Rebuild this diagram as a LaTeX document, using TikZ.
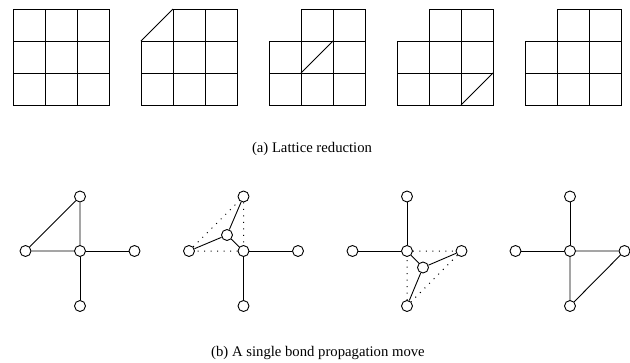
\documentclass[tikz,border=0pt]{standalone}
\usepackage{fontspec}
\setmainfont{Liberation Serif}
\usepackage{tikz}
\usetikzlibrary{positioning, calc}

\begin{document}
\begin{tikzpicture}[
    x=1pt, y=-1pt,
    line width=0.9pt,
    site/.style={circle, draw, fill=white, minimum size=11pt, inner sep=0pt},
    bond/.style={line width=0.9pt},
    ghost/.style={line width=1pt, dash pattern=on 1pt off 5.5pt},
    caption/.style={font=\fontsize{14.7}{17}\selectfont}
]
    \useasboundingbox (0,0) rectangle (630,362);

    % Lattice reduction: full lattice
    \foreach \c in {0,1,2}
        \foreach \r in {0,1,2}
            \draw (13+32*\c, 9+32*\r) rectangle +(32,32);

    % Lattices with the corner cell taken out
    \foreach \x in {141,269,397,525}
        \foreach \c/\r in {1/0,2/0,0/1,1/1,2/1,0/2,1/2,2/2}
            \draw (\x+32*\c, 9+32*\r) rectangle +(32,32);

    % Diagonals
    \draw (141,41) -- (173,9);
    \draw (301,73) -- (333,41);
    \draw (461,105) -- (493,73);

    \node[caption] (capa) at (312,149) {(a) Lattice reduction};

    % Bond propagation: four copies of the star
    \foreach \i/\x in {1/80,2/243.5,3/407,4/570} {
        \node[site] (c\i) at (\x,251) {};
        \node[site] (t\i) at (\x,196.5) {};
        \node[site] (l\i) at (\x-54.5,251) {};
        \node[site] (r\i) at (\x+54.5,251) {};
        \node[site] (b\i) at (\x,306) {};
    }
    \node[site] (m2) at (227,235) {};
    \node[site] (m3) at (423,267.5) {};

    % Before the move
    \draw[bond] (l1) -- (t1) -- (c1) -- (l1);
    \draw[bond] (c1) -- (r1);
    \draw[bond] (c1) -- (b1);

    % Triangle shrinks to a node
    \draw[ghost] (l2) -- (t2) -- (c2) -- (l2);
    \draw[bond] (m2) -- (t2);
    \draw[bond] (m2) -- (l2);
    \draw[bond] (m2) -- (c2);
    \draw[bond] (c2) -- (r2);
    \draw[bond] (c2) -- (b2);

    % Node opens into the next triangle
    \draw[ghost] (c3) -- (r3) -- (b3) -- (c3);
    \draw[bond] (t3) -- (c3);
    \draw[bond] (l3) -- (c3);
    \draw[bond] (c3) -- (m3);
    \draw[bond] (m3) -- (r3);
    \draw[bond] (m3) -- (b3);

    % After the move
    \draw[bond] (t4) -- (c4);
    \draw[bond] (l4) -- (c4);
    \draw[bond] (c4) -- (r4) -- (b4) -- (c4);

    \node[caption] (capb) at (318,353) {(b) A single bond propagation move};
\end{tikzpicture}
\end{document}
